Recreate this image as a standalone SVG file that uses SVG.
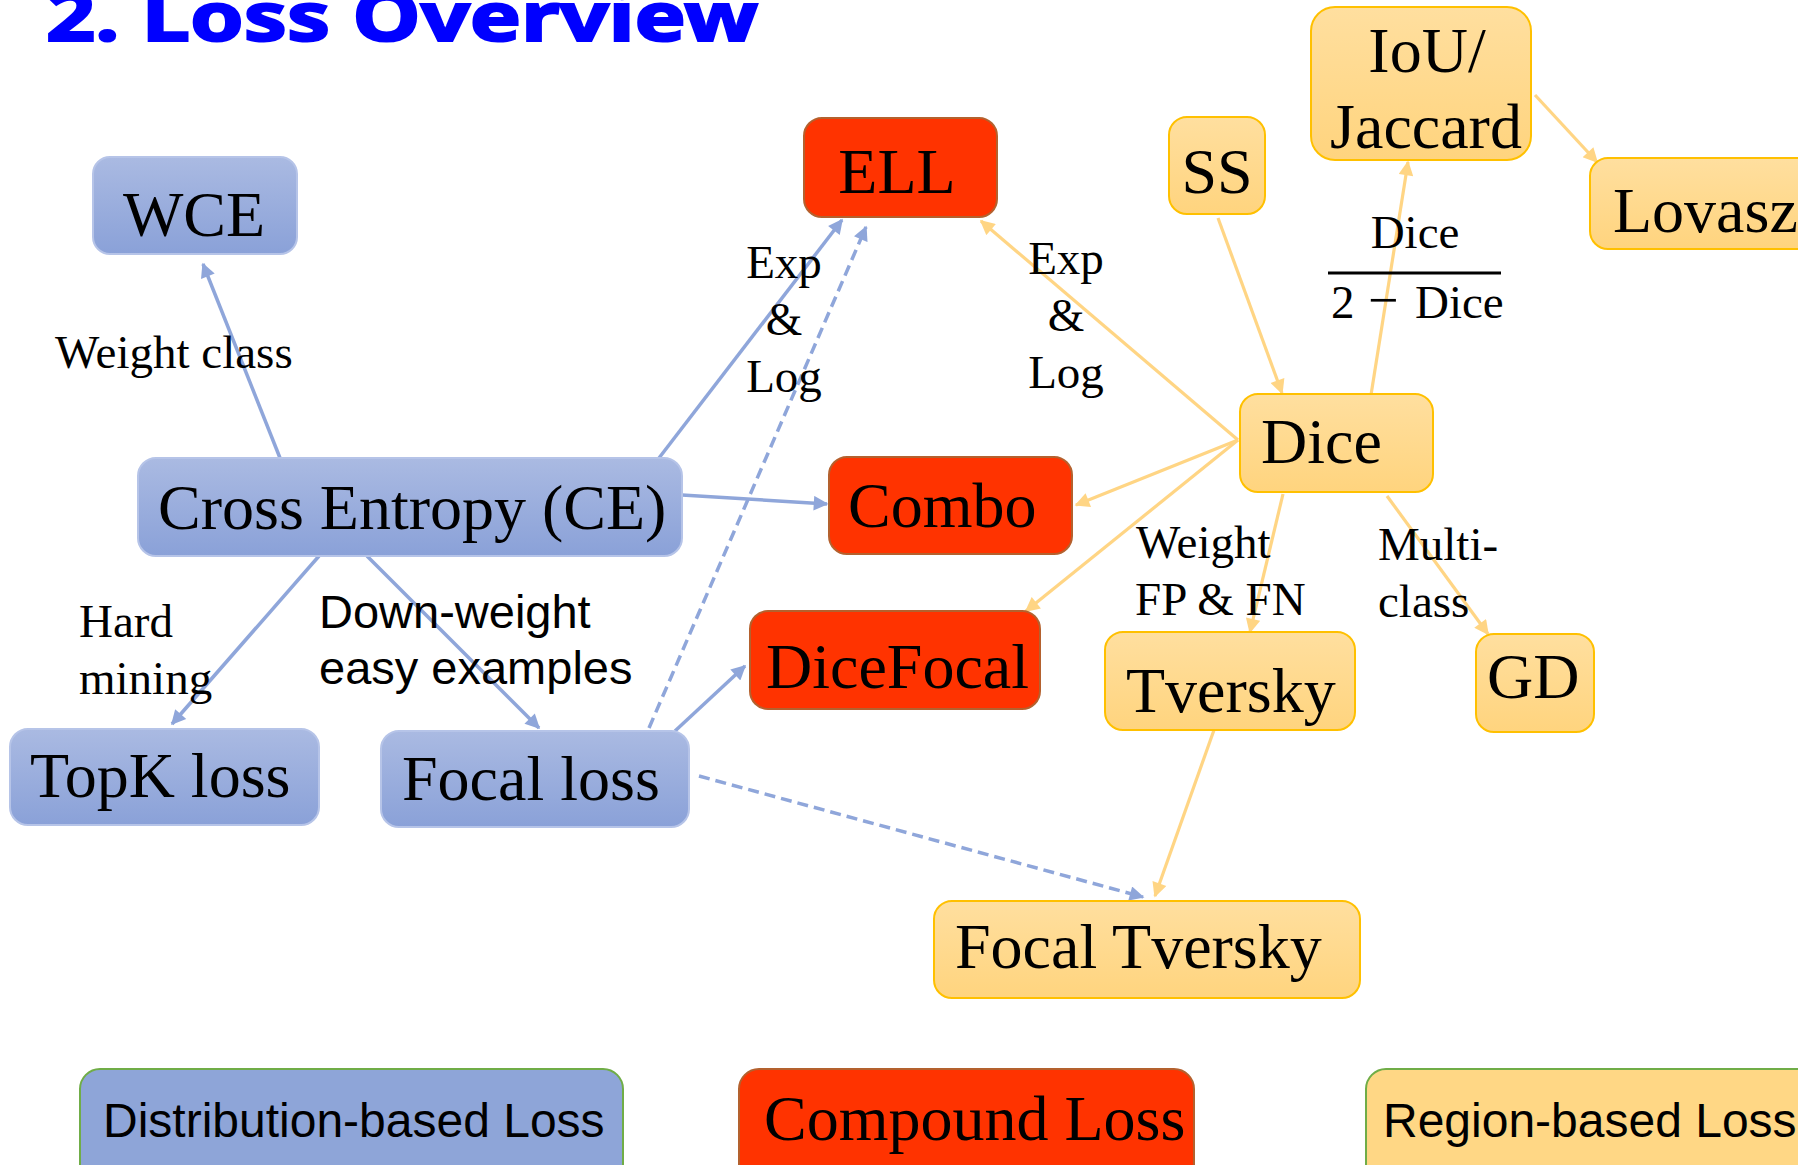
<svg xmlns="http://www.w3.org/2000/svg" width="1798" height="1165" viewBox="0 0 1798 1165">
  <defs>
    <linearGradient id="gBlue" x1="0" y1="0" x2="0" y2="1">
      <stop offset="0" stop-color="#AABAE2"/>
      <stop offset="1" stop-color="#8AA1D8"/>
    </linearGradient>
    <linearGradient id="gGold" x1="0" y1="0" x2="0" y2="1">
      <stop offset="0" stop-color="#FFDF9F"/>
      <stop offset="1" stop-color="#FFD47E"/>
    </linearGradient>
    <marker id="arrBlue" viewBox="0 0 10 10" refX="9" refY="5" markerWidth="4.6" markerHeight="4.2" orient="auto" markerUnits="strokeWidth">
      <path d="M0,0 L10,5 L0,10 z" fill="#8FA6DA"/>
    </marker>
    <marker id="arrGold" viewBox="0 0 10 10" refX="9" refY="5" markerWidth="5" markerHeight="4.6" orient="auto" markerUnits="strokeWidth">
      <path d="M0,0 L10,5 L0,10 z" fill="#FFD584"/>
    </marker>
  </defs>
  <style>
    .dist rect { fill: url(#gBlue); stroke: #B6C4E8; stroke-width: 2; }
    .comp rect { fill: #FF3300; stroke: #B4612E; stroke-width: 2; }
    .reg rect { fill: url(#gGold); stroke: #FFC000; stroke-width: 2; }
    .node text { font-family: "Liberation Serif", "Times New Roman", serif; font-size: 64px; fill: #000; }
    .lbl { font-family: "Liberation Serif", "Times New Roman", serif; font-size: 47px; fill: #000; }
    .lbls { font-family: "Liberation Sans", Arial, sans-serif; font-size: 47px; fill: #000; }
    .eb { fill: none; stroke: #8FA6DA; stroke-width: 3.5; marker-end: url(#arrBlue); }
    .eg { fill: none; stroke: #FFD584; stroke-width: 3.2; marker-end: url(#arrGold); }
    .dash { stroke-dasharray: 11 6; }
  </style>

  <rect width="1798" height="1165" fill="#FFFFFF"/>

  <!-- heading, its upper edge runs off the top of the page -->
  <text x="46" y="41" font-family="'Noto Sans', 'Open Sans', sans-serif" font-weight="bold" font-size="69" fill="#0000FF" stroke="#0000FF" stroke-width="2.2" textLength="712" lengthAdjust="spacingAndGlyphs">2. Loss Overview</text>

  <!-- connectors -->
  <g id="connectors">
    <line class="eb" x1="280" y1="458" x2="203" y2="264"/>
    <line class="eb" x1="659" y1="458" x2="842" y2="220"/>
    <line class="eb dash" x1="649" y1="728" x2="866" y2="227"/>
    <line class="eb" x1="682" y1="495" x2="827" y2="504"/>
    <line class="eb" x1="319" y1="556" x2="172" y2="724"/>
    <line class="eb" x1="367" y1="556" x2="539" y2="728"/>
    <line class="eb" x1="675" y1="731" x2="745" y2="666"/>
    <line class="eb dash" x1="699" y1="776" x2="1143" y2="897"/>

    <line class="eg" x1="1238" y1="440" x2="981" y2="221"/>
    <line class="eg" x1="1238" y1="440" x2="1076" y2="505"/>
    <line class="eg" x1="1238" y1="440" x2="1026" y2="611"/>
    <line class="eg" x1="1218" y1="218" x2="1282" y2="393"/>
    <line class="eg" x1="1371" y1="395" x2="1408" y2="162"/>
    <line class="eg" x1="1535" y1="95" x2="1597" y2="162"/>
    <line class="eg" x1="1283" y1="494" x2="1250" y2="632"/>
    <line class="eg" x1="1387" y1="496" x2="1488" y2="634"/>
    <line class="eg" x1="1214" y1="730" x2="1155" y2="896"/>
  </g>

  <!-- distribution-based nodes -->
  <g id="node-wce" class="node dist">
    <rect x="93" y="157" width="204" height="97" rx="17"/>
    <text x="194" y="236" text-anchor="middle">WCE</text>
  </g>
  <g id="node-ce" class="node dist">
    <rect x="138" y="458" width="544" height="98" rx="18"/>
    <text x="158" y="529">Cross Entropy (CE)</text>
  </g>
  <g id="node-topk" class="node dist">
    <rect x="10" y="729" width="309" height="96" rx="18"/>
    <text x="30" y="797">TopK loss</text>
  </g>
  <g id="node-focal" class="node dist">
    <rect x="381" y="731" width="308" height="96" rx="18"/>
    <text x="402" y="800">Focal loss</text>
  </g>

  <!-- compound nodes -->
  <g id="node-ell" class="node comp">
    <rect x="804" y="118" width="193" height="99" rx="18"/>
    <text x="897" y="193" text-anchor="middle">ELL</text>
  </g>
  <g id="node-combo" class="node comp">
    <rect x="829" y="457" width="243" height="97" rx="18"/>
    <text x="848" y="527">Combo</text>
  </g>
  <g id="node-dicefocal" class="node comp">
    <rect x="750" y="611" width="290" height="98" rx="18"/>
    <text x="766" y="688">DiceFocal</text>
  </g>

  <!-- region-based nodes -->
  <g id="node-ss" class="node reg">
    <rect x="1169" y="117" width="96" height="97" rx="18"/>
    <text x="1217" y="193" text-anchor="middle">SS</text>
  </g>
  <g id="node-iou" class="node reg">
    <rect x="1311" y="7" width="220" height="153" rx="24"/>
    <text x="1427" y="72" text-anchor="middle">IoU/</text>
    <text x="1426" y="148" text-anchor="middle">Jaccard</text>
  </g>
  <g id="node-lovasz" class="node reg">
    <rect x="1590" y="158" width="260" height="91" rx="18"/>
    <text x="1613" y="232">Lovasz</text>
  </g>
  <g id="node-dice" class="node reg">
    <rect x="1240" y="394" width="193" height="98" rx="18"/>
    <text x="1261" y="463">Dice</text>
  </g>
  <g id="node-tversky" class="node reg">
    <rect x="1105" y="632" width="250" height="98" rx="18"/>
    <text x="1126" y="712">Tversky</text>
  </g>
  <g id="node-gd" class="node reg">
    <rect x="1476" y="634" width="118" height="98" rx="18"/>
    <text x="1487" y="698">GD</text>
  </g>
  <g id="node-focaltversky" class="node reg">
    <rect x="934" y="901" width="426" height="97" rx="18"/>
    <text x="955" y="968">Focal Tversky</text>
  </g>

  <!-- connector labels -->
  <g id="edge-labels">
    <text class="lbl" x="55" y="368">Weight class</text>
    <text class="lbl" x="79" y="637">Hard</text>
    <text class="lbl" x="79" y="694">mining</text>
    <text class="lbls" x="319" y="628">Down-weight</text>
    <text class="lbls" x="319" y="684">easy examples</text>
    <text class="lbl" x="784" y="278" text-anchor="middle">Exp</text>
    <text class="lbl" x="784" y="335" text-anchor="middle">&amp;</text>
    <text class="lbl" x="784" y="392" text-anchor="middle">Log</text>
    <text class="lbl" x="1066" y="274" text-anchor="middle">Exp</text>
    <text class="lbl" x="1066" y="331" text-anchor="middle">&amp;</text>
    <text class="lbl" x="1066" y="388" text-anchor="middle">Log</text>
    <text class="lbl" x="1415" y="248" text-anchor="middle" font-size="45">Dice</text>
    <line x1="1328" y1="273" x2="1501" y2="273" stroke="#000" stroke-width="3"/>
    <text class="lbl" y="318" font-size="45"><tspan x="1331">2</tspan><tspan x="1368" font-size="54">−</tspan><tspan x="1415">Dice</tspan></text>
    <text class="lbl" x="1136" y="558">Weight</text>
    <text class="lbl" x="1135" y="615">FP &amp; FN</text>
    <text class="lbl" x="1378" y="560">Multi-</text>
    <text class="lbl" x="1378" y="617">class</text>
  </g>

  <!-- legend -->
  <g id="legend-distribution">
    <rect x="80" y="1069" width="543" height="115" rx="20" fill="#8EA5D8" stroke="#70AD47" stroke-width="2"/>
    <text x="103" y="1137" font-family="'Liberation Sans', Arial, sans-serif" font-size="48">Distribution-based Loss</text>
  </g>
  <g id="legend-compound">
    <rect x="739" y="1069" width="455" height="115" rx="20" fill="#FF3300" stroke="#B4612E" stroke-width="2"/>
    <text x="764" y="1140" font-family="'Liberation Serif', 'Times New Roman', serif" font-size="64">Compound Loss</text>
  </g>
  <g id="legend-region">
    <rect x="1366" y="1069" width="480" height="115" rx="20" fill="#FFD785" stroke="#70AD47" stroke-width="2"/>
    <text x="1383" y="1137" font-family="'Liberation Sans', Arial, sans-serif" font-size="48">Region-based Loss</text>
  </g>
</svg>
